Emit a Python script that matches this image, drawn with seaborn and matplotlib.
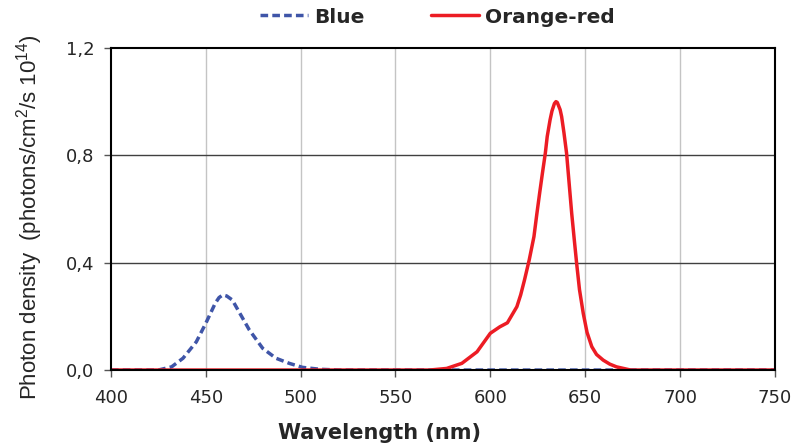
import numpy as np
import pandas as pd
import seaborn as sns
import matplotlib.pyplot as plt

# Werte
blue_nm = [400, 425, 432, 438, 445, 450, 455, 457, 459, 461, 464, 468, 473, 480, 487, 494, 501, 510, 520, 750]
blue_val = [0, 0, 0.012, 0.044, 0.105, 0.174, 0.249, 0.270, 0.280, 0.276, 0.261, 0.211, 0.149, 0.081,
            0.044, 0.025, 0.010, 0.003, 0, 0]

red_nm = [400, 568, 577, 585, 593, 600, 605, 609, 614, 616, 618, 620.5, 623, 624.5, 626, 627.5, 629, 630,
          631.5, 632.5, 633.8, 634.6, 635.3, 636.8, 637.6, 638.8, 640.2, 641.5, 642.9, 644.2, 645.5, 647,
          649, 651, 653.5, 656, 659.5, 663, 666.5, 674, 750]
red_val = [0, 0, 0.006, 0.025, 0.068, 0.137, 0.161, 0.176, 0.236, 0.280, 0.335, 0.410, 0.497, 0.580,
           0.659, 0.735, 0.808, 0.870, 0.932, 0.965, 0.993, 1.000, 0.997, 0.970, 0.944, 0.885, 0.808,
           0.700, 0.584, 0.490, 0.398, 0.300, 0.211, 0.140, 0.087, 0.058, 0.037, 0.022, 0.012, 0, 0]

series_names = ['Blue', 'Orange-red']
x_ticks = [400, 450, 500, 550, 600, 650, 700, 750]
y_ticks = [0.0, 0.4, 0.8, 1.2]
y_tick_labels = ['0,0', '0,4', '0,8', '1,2']

df = pd.concat([
    pd.DataFrame({'nm': blue_nm, 'value': blue_val, 'series': series_names[0]}),
    pd.DataFrame({'nm': red_nm, 'value': red_val, 'series': series_names[1]}),
], ignore_index=True)

sns.set_style('white')
plt.rcParams['font.family'] = ['DejaVu Sans']
plt.rcParams['mathtext.default'] = 'regular'

fig = plt.figure(figsize=(7.98, 4.48), dpi=100)
ax = fig.add_axes([0.139, 0.174, 0.832, 0.719])

sns.lineplot(data=df, x='nm', y='value', hue='series', style='series',
             palette={'Blue': '#3f55a8', 'Orange-red': '#ec1c24'},
             dashes={'Blue': (2.2, 1.2), 'Orange-red': ''},
             linewidth=2.5, ax=ax, legend=True)

ax.set_xlim(400, 750)
ax.set_ylim(0, 1.2)
ax.set_xticks(x_ticks)
ax.set_yticks(y_ticks)
ax.set_yticklabels(y_tick_labels)

# Gitterlinien: vertikal hell, horizontal dunkel
ax.grid(False)
for x in x_ticks[1:-1]:
    ax.axvline(x, color='#c4c4c4', lw=1, zorder=0)
for y in y_ticks[1:-1]:
    ax.axhline(y, color='#404040', lw=1, zorder=0)

for sp in ax.spines.values():
    sp.set_color('black')
    sp.set_linewidth(1.5)

ax.tick_params(axis='both', which='major', direction='out', length=5, width=1,
               color='#555555', labelsize=13, left=True, bottom=True)
ax.tick_params(axis='x', pad=9)
ax.tick_params(axis='y', pad=7)

ax.set_xlabel('Wavelength (nm)', fontsize=15, fontweight='bold')
ax.xaxis.set_label_coords(0.405, -0.165)
ax.set_ylabel('Photon density  (photons/cm$^{2}$/s 10$^{14}$)', fontsize=16,
              family=['Liberation Sans', 'DejaVu Sans'])
ax.yaxis.set_label_coords(-0.1, 0.475)

handles, labels = ax.get_legend_handles_labels()
ax.get_legend().remove()
fig.legend(handles, labels, loc='center', bbox_to_anchor=(0.548, 0.962), ncol=2,
           frameon=False, prop={'weight': 'bold', 'size': 14.5},
           handlelength=2.4, handletextpad=0.3, columnspacing=3.3)

fig.savefig('out.png', dpi=100)
